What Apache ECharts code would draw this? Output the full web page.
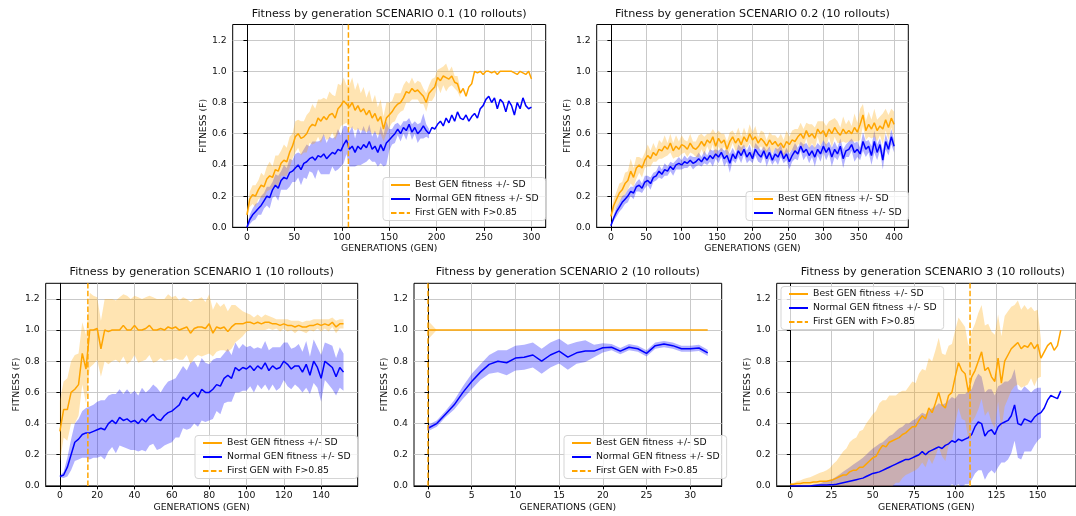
<!DOCTYPE html>
<html>
<head>
<meta charset="utf-8">
<script src="https://cdn.jsdelivr.net/npm/echarts@6/dist/echarts.min.js"></script>
<style>
  html, body { margin: 0; padding: 0; background: #ffffff; }
  #chart { width: 1076px; height: 516px; }
</style>
</head>
<body>
<div id="chart"></div>
<script>
// ---------------- data: mean fitness per generation and its SD ----------------
// Scenario 0.1 (one value every 3 generations)
const GEN_STEP_S01 = 3;
const BEST_S01 = [
  .08,.18,.21,.2,.24,.27,.26,.31,.33,.32,
  .37,.36,.41,.43,.42,.48,.52,.58,.6,.57,
  .58,.6,.64,.66,.65,.7,.68,.71,.69,.72,
  .73,.7,.76,.78,.81,.79,.77,.8,.75,.78,
  .74,.76,.72,.75,.7,.73,.68,.71,.63,.7,
  .72,.74,.77,.79,.8,.83,.87,.86,.89,.87,
  .88,.86,.84,.8,.86,.88,.9,.96,.94,.97,
  .96,.95,.97,.93,.92,.86,.89,.84,.9,.92,
  1.0,.99,1.0,.98,1.0,1.0,.99,1.0,.98,1.0,
  1.0,1.0,1.0,1.0,.99,.98,1.0,.99,.98,1.0,
  .95
];
const BEST_SD_S01 = [
  .03,.05,.06,.07,.06,.08,.07,.08,.09,.07,
  .09,.1,.08,.1,.09,.1,.08,.1,.09,.11,
  .1,.12,.1,.13,.11,.12,.14,.12,.13,.15,
  .12,.14,.16,.13,.15,.12,.14,.16,.13,.15,
  .12,.14,.11,.13,.1,.12,.09,.11,.08,.1,
  .08,.07,.09,.07,.06,.08,.07,.06,.07,.05,
  .06,.07,.05,.06,.05,.07,.06,.05,.08,.06,
  .09,.05,.06,.04,.05,.03
];
const NORMAL_S01 = [
  0,.05,.08,.1,.12,.14,.17,.2,.19,.24,
  .27,.25,.3,.32,.31,.35,.36,.38,.4,.37,
  .41,.42,.44,.45,.43,.46,.45,.47,.44,.46,
  .48,.47,.5,.49,.53,.56,.5,.52,.48,.52,
  .5,.53,.51,.55,.5,.52,.48,.53,.49,.54,
  .56,.58,.6,.63,.6,.64,.62,.66,.61,.64,
  .6,.62,.65,.62,.6,.64,.63,.66,.68,.65,
  .7,.67,.72,.68,.74,.7,.69,.72,.68,.71,
  .73,.7,.76,.78,.82,.84,.8,.83,.76,.82,
  .8,.74,.81,.78,.72,.8,.76,.83,.78,.76,
  .77
];
const NORMAL_SD_S01 = [
  .01,.03,.04,.05,.04,.06,.05,.06,.07,.05,
  .07,.08,.06,.08,.07,.09,.07,.09,.08,.1,
  .09,.11,.08,.1,.12,.09,.11,.13,.1,.12,
  .09,.11,.13,.1,.12,.09,.11,.13,.09,.12,
  .1,.12,.09,.11,.08,.1,.09,.12,.1,.14,
  .07,.05,.06,.04,.05,.04,.06,.04,.05,.04,
  .06,.05,.08,.04,.03
];
const FIRST_GEN_S01 = 107;

// Scenario 0.2 (one value every 4 generations)
const GEN_STEP_S02 = 4;
const BEST_S02 = [
  .07,.14,.18,.22,.24,.28,.3,.36,.32,.38,
  .4,.38,.43,.46,.44,.48,.46,.5,.49,.52,
  .5,.54,.49,.52,.5,.53,.52,.5,.54,.51,
  .5,.52,.55,.52,.56,.54,.58,.52,.57,.54,
  .56,.5,.55,.58,.54,.57,.53,.58,.55,.6,
  .56,.58,.54,.57,.55,.52,.56,.53,.55,.52,
  .54,.51,.55,.53,.56,.55,.58,.6,.57,.62,
  .58,.6,.57,.63,.6,.62,.58,.63,.6,.64,
  .61,.59,.63,.6,.62,.6,.64,.61,.66,.72,
  .62,.66,.63,.67,.62,.65,.63,.69,.64,.7,
  .66
];
const BEST_SD_S02 = [
  .03,.04,.05,.06,.05,.07,.06,.08,.06,.07,
  .05,.06,.05,.07,.05,.06,.04,.06,.05,.07,
  .04,.06,.05,.07,.05,.06,.04,.05,.06,.04,
  .05,.07,.05,.06,.04,.06,.05,.08,.05,.06,
  .04,.05,.06,.04,.05,.07,.05,.06,.04,.06,
  .05,.07,.04,.05,.06,.04,.05,.06,.04,.05,
  .06,.05,.07,.05,.06,.08,.05,.07,.06,.05,
  .08,.06,.07,.05,.08,.06,.07,.05,.09,.06,
  .07,.05,.08,.06,.07,.05,.09,.06,.1,.07,
  .06,.08,.06,.09,.07,.06,.1,.07,.08,.06,
  .08
];
const NORMAL_S02 = [
  .01,.06,.1,.13,.16,.18,.2,.23,.22,.26,
  .27,.25,.29,.3,.28,.32,.33,.36,.34,.37,
  .36,.39,.37,.4,.41,.4,.42,.41,.43,.41,
  .42,.44,.42,.45,.43,.46,.44,.47,.45,.48,
  .44,.46,.41,.47,.44,.49,.46,.5,.45,.48,
  .44,.5,.47,.45,.49,.44,.48,.43,.47,.45,
  .49,.44,.47,.42,.46,.49,.47,.52,.48,.5,
  .46,.49,.45,.5,.47,.52,.48,.51,.45,.5,
  .47,.52,.44,.49,.5,.53,.48,.5,.47,.55,
  .5,.52,.46,.55,.48,.53,.43,.55,.5,.58,
  .52
];
const NORMAL_SD_S02 = [
  .01,.02,.03,.03,.04,.03,.04,.03,.04,.03,
  .04,.03,.04,.03,.04,.03,.03,.04,.03,.04,
  .03,.03,.04,.03,.04,.03,.04,.03,.03,.04,
  .03,.04,.03,.04,.03,.04,.05,.03,.04,.03,
  .05,.04,.06,.04,.03,.04,.05,.03,.04,.05,
  .03,.04,.05,.04,.03,.05,.04,.03,.04,.05,
  .04,.03,.04,.05,.04,.05,.04,.03,.05,.04,
  .05,.04,.06,.04,.05,.04,.05,.04,.06,.05,
  .04,.05,.06,.04,.05,.04,.06,.05,.04,.06,
  .05,.04,.06,.07,.05,.04,.06,.05,.04,.05,
  .04
];
const FIRST_GEN_S02 = null;

// Scenario 1 (one value every 2 generations)
const GEN_STEP_S1 = 2;
const BEST_S1 = [
  .35,.49,.49,.6,.62,.65,.85,.75,1.0,1.0,
  1.01,.88,1.0,.99,1.0,1.0,1.0,1.03,1.0,1.0,
  1.03,1.0,1.0,1.01,1.03,1.0,1.0,1.01,1.0,1.02,
  1.01,1.02,1.0,1.01,1.02,.98,1.01,1.02,1.02,1.01,
  1.04,.98,1.02,1.01,1.02,.99,1.02,1.04,1.04,1.04,
  1.05,1.05,1.04,1.05,1.04,1.05,1.05,1.04,1.04,1.03,
  1.04,1.03,1.03,1.02,1.03,1.02,1.02,1.03,1.03,1.04,
  1.03,1.04,1.03,1.05,1.02,1.04,1.04
];
const BEST_SD_S1 = [
  .2,.18,.2,.2,.22,.2,.2,.22,.24,.22,
  .2,.18,.2,.21,.2,.19,.21,.2,.22,.2,
  .19,.21,.2,.2,.19,.21,.2,.19,.2,.21,
  .2,.2,.19,.2,.18,.2,.19,.18,.19,.17,
  .19,.15,.16,.14,.15,.13,.14,.12,.1,.08,
  .06,.05,.04,.05,.04,.05,.04,.04,.03,.04,
  .03,.04,.03,.04,.03,.03,.04,.03,.04,.03,
  .04,.03,.04,.03,.04,.03,.03
];
const NORMAL_S1 = [
  .06,.07,.12,.2,.28,.3,.33,.34,.34,.35,
  .36,.37,.36,.4,.42,.4,.44,.42,.43,.41,
  .42,.4,.43,.41,.44,.46,.43,.42,.45,.47,
  .48,.5,.52,.57,.55,.58,.6,.57,.62,.6,
  .6,.62,.65,.64,.69,.71,.69,.76,.74,.76,
  .75,.77,.74,.77,.75,.79,.74,.77,.75,.76,
  .8,.78,.75,.77,.77,.73,.78,.71,.8,.76,
  .69,.8,.78,.76,.7,.76,.73
];
const NORMAL_SD_S1 = [
  .005,.02,.06,.1,.12,.13,.15,.16,.17,.17,
  .18,.18,.19,.18,.17,.19,.18,.17,.19,.18,
  .19,.18,.2,.19,.18,.19,.2,.18,.19,.2,
  .2,.19,.21,.2,.19,.21,.2,.19,.2,.19,
  .18,.19,.17,.18,.16,.17,.15,.16,.14,.15,
  .14,.13,.14,.12,.13,.14,.13,.12,.14,.13,
  .12,.14,.13,.12,.14,.13,.15,.12,.14,.13,
  .15,.12,.13,.14,.12,.13,.12
];
const FIRST_GEN_S1 = 15;

// Scenario 2 (every generation)
const GEN_STEP_S2 = 1;
const BEST_S2 = [
  1,1,1,1,1,1,1,1,1,1,
  1,1,1,1,1,1,1,1,1,1,
  1,1,1,1,1,1,1,1,1,1,
  1,1,1
];
const BEST_SD_S2 = [.06, 0];
const NORMAL_S2 = [
  .37,.4,.46,.52,.6,.67,.73,.78,.8,.79,
  .82,.825,.84,.8,.84,.865,.826,.854,.865,.865,
  .886,.89,.865,.89,.88,.85,.9,.91,.9,.88,
  .88,.885,.854
];
const NORMAL_SD_S2 = [
  .02,.02,.02,.03,.04,.05,.05,.06,.07,.08,
  .08,.08,.08,.08,.08,.08,.08,.07,.07,.04,
  .03,.02,.02,.02,.02,.02,.02,.02,.02,.02,
  .02,.02,.02
];
const FIRST_GEN_S2 = 0;

// Scenario 3 (one value every 2 generations)
const GEN_STEP_S3 = 2;
const BEST_S3 = [
  .01,.01,.015,.015,.02,.02,.02,.025,.025,.03,
  .03,.03,.035,.04,.05,.06,.07,.07,.09,.1,
  .1,.12,.12,.14,.16,.18,.19,.23,.26,.25,
  .28,.29,.3,.31,.33,.34,.36,.38,.38,.42,
  .45,.43,.5,.47,.53,.6,.52,.5,.58,.6,
  .7,.79,.74,.72,.6,.7,.74,.8,.86,.74,
  .76,.7,.67,.82,.66,.8,.84,.88,.9,.92,
  .88,.9,.89,.92,.88,.91,.82,.86,.9,.92,
  .87,.9,1.0
];
const BEST_SD_S3 = [
  .005,.01,.015,.02,.025,.03,.035,.04,.05,.055,
  .06,.07,.08,.1,.11,.13,.15,.17,.19,.2,
  .21,.23,.24,.26,.27,.28,.29,.3,.29,.3,
  .3,.29,.28,.29,.28,.27,.28,.29,.28,.3,
  .3,.31,.32,.33,.34,.35,.33,.34,.32,.31,
  .3,.29,.31,.3,.3,.29,.3,.31,.3,.29,
  .28,.29,.3,.28,.3,.29,.28,.27,.26,.27,
  .25,.26,.24,.23,.24,.22,.12
];
const NORMAL_S3 = [
  0,0,0,0,0,0,0,.002,.004,.005,
  .005,.006,.007,.008,.01,.015,.02,.025,.03,.035,
  .04,.045,.05,.06,.07,.08,.085,.09,.1,.11,
  .12,.13,.14,.15,.16,.17,.17,.18,.19,.2,
  .22,.2,.22,.23,.24,.25,.24,.26,.27,.29,
  .28,.3,.29,.3,.31,.33,.38,.41,.4,.32,
  .35,.36,.33,.38,.4,.41,.42,.45,.52,.4,
  .39,.43,.42,.41,.44,.46,.47,.5,.55,.58,
  .57,.56,.61
];
const NORMAL_SD_S3 = [
  0,0,0,0,0,0,.002,.004,.006,.01,
  .02,.025,.03,.04,.05,.06,.07,.08,.09,.1,
  .11,.12,.13,.14,.15,.16,.17,.18,.18,.19,
  .2,.2,.21,.22,.22,.23,.23,.24,.24,.25,
  .25,.26,.26,.27,.27,.28,.28,.27,.28,.28,
  .28,.29,.3,.29,.3,.29,.3,.31,.3,.28,
  .27,.26,.25,.26,.25,.26,.25,.24,.23,.22,
  .22,.21,.2,.19,.18,.17,.16
];
const FIRST_GEN_S3 = 109;

// ---------------- tick labels and text ----------------
const X_TICKS_S01 = [0, 50, 100, 150, 200, 250, 300];
const X_TICKS_S02 = [0, 50, 100, 150, 200, 250, 300, 350, 400];
const X_TICKS_S1 = [0, 20, 40, 60, 80, 100, 120, 140];
const X_TICKS_S2 = [0, 5, 10, 15, 20, 25, 30];
const X_TICKS_S3 = [0, 25, 50, 75, 100, 125, 150];
const Y_TICKS = [0, 0.2, 0.4, 0.6, 0.8, 1.0, 1.2];

const TITLES = [
  'Fitness by generation SCENARIO 0.1 (10 rollouts)',
  'Fitness by generation SCENARIO 0.2 (10 rollouts)',
  'Fitness by generation SCENARIO 1 (10 rollouts)',
  'Fitness by generation SCENARIO 2 (10 rollouts)',
  'Fitness by generation SCENARIO 3 (10 rollouts)'
];
const NAME_BEST = 'Best GEN fitness +/- SD';
const NAME_NORMAL = 'Normal GEN fitness +/- SD';
const NAME_FIRST = 'First GEN with F>0.85';
const X_NAME = 'GENERATIONS (GEN)';
const Y_NAME = 'FITNESS (F)';

// ---------------- panel layout (pixels) ----------------
const PANELS = [
  { step: GEN_STEP_S01, best: BEST_S01, bestSd: BEST_SD_S01, normal: NORMAL_S01, normalSd: NORMAL_SD_S01, first: FIRST_GEN_S01, xTicks: X_TICKS_S01,
    grid: { left: 232.7, top: 24.5, width: 313, height: 202.8 }, xMin: -15, xMax: 315, legend: { left: 383, top: 177.5 }, titleX: 389.2, titleY: 8.5 },
  { step: GEN_STEP_S02, best: BEST_S02, bestSd: BEST_SD_S02, normal: NORMAL_S02, normalSd: NORMAL_SD_S02, first: FIRST_GEN_S02, xTicks: X_TICKS_S02,
    grid: { left: 596.7, top: 24.5, width: 311.6, height: 202.8 }, xMin: -20, xMax: 420, legend: { left: 746, top: 191.5 }, titleX: 752.5, titleY: 8.5 },
  { step: GEN_STEP_S1, best: BEST_S1, bestSd: BEST_SD_S1, normal: NORMAL_S1, normalSd: NORMAL_SD_S1, first: FIRST_GEN_S1, xTicks: X_TICKS_S1,
    grid: { left: 45.7, top: 283.3, width: 312, height: 202.6 }, xMin: -7.6, xMax: 159.6, legend: { left: 195, top: 435.5 }, titleX: 201.7, titleY: 267 },
  { step: GEN_STEP_S2, best: BEST_S2, bestSd: BEST_SD_S2, normal: NORMAL_S2, normalSd: NORMAL_SD_S2, first: FIRST_GEN_S2, xTicks: X_TICKS_S2,
    grid: { left: 414, top: 283.3, width: 307.7, height: 202.6 }, xMin: -1.6, xMax: 33.6, legend: { left: 564, top: 435.5 }, titleX: 567.9, titleY: 267 },
  { step: GEN_STEP_S3, best: BEST_S3, bestSd: BEST_SD_S3, normal: NORMAL_S3, normalSd: NORMAL_SD_S3, first: FIRST_GEN_S3, xTicks: X_TICKS_S3,
    grid: { left: 776.7, top: 283.3, width: 312.2, height: 202.6 }, xMin: -8.25, xMax: 173.25, legend: { left: 781, top: 286.5 }, titleX: 932.8, titleY: 267 }
];

const FONT = 'DejaVu Sans';
const TEXT = '#111111';
const ORANGE = '#ffa500';
const BLUE = '#0000ff';
const ORANGE_FILL = 'rgba(255,165,0,0.3)';
const BLUE_FILL = 'rgba(0,0,255,0.3)';
const Y_MIN = 0, Y_MAX = 1.3;

function gensOf(values, step) {
  return values.map((_, k) => k * step);
}

// mean +/- SD drawn as one filled polygon
function bandSeries(idx, gens, mean, sd, fill, z) {
  const n = Math.min(mean.length, sd.length);
  const rows = [];
  for (let k = 0; k < n; k++) rows.push([gens[k], mean[k] - sd[k], mean[k] + sd[k]]);
  return {
    type: 'custom', xAxisIndex: idx, yAxisIndex: idx, silent: true, clip: true, z: z,
    animation: false,
    data: rows,
    encode: { x: 0, y: [1, 2] },
    renderItem(params, api) {
      if (params.dataIndex !== 0) return null;
      const upper = rows.map(r => api.coord([r[0], r[2]]));
      const lower = rows.map(r => api.coord([r[0], r[1]])).reverse();
      return { type: 'polygon', shape: { points: upper.concat(lower) }, style: { fill: fill } };
    }
  };
}

function lineSeries(idx, name, gens, values, color, z) {
  return {
    type: 'line', name: name, xAxisIndex: idx, yAxisIndex: idx, z: z,
    data: values.map((v, k) => [gens[k], v]),
    symbol: 'none', showSymbol: false, animation: false, silent: true,
    lineStyle: { color: color, width: 1.5 },
    itemStyle: { color: color }
  };
}

const textStyle = (size) => ({ fontFamily: FONT, fontSize: size, color: TEXT, fontWeight: 'normal' });

const grids = [], xAxes = [], yAxes = [], series = [], titles = [], legends = [];

PANELS.forEach((p, i) => {
  grids.push(Object.assign({ show: true, borderColor: '#000', borderWidth: 1, backgroundColor: 'transparent', containLabel: false }, p.grid));

  xAxes.push({
    type: 'value', gridIndex: i, min: p.xMin, max: p.xMax,
    name: X_NAME, nameLocation: 'middle', nameGap: 17, nameTextStyle: textStyle(9.3),
    axisLine: { show: true, onZero: false, lineStyle: { color: '#000', width: 1 } },
    axisTick: { show: true, length: 3.5, customValues: p.xTicks, lineStyle: { color: '#000', width: 1 } },
    axisLabel: Object.assign({ customValues: p.xTicks, margin: 5.5 }, textStyle(9.3)),
    splitLine: { show: true, lineStyle: { color: '#c9c9c9', width: 1 } }
  });

  yAxes.push({
    type: 'value', gridIndex: i, min: Y_MIN, max: Y_MAX,
    name: Y_NAME, nameLocation: 'middle', nameRotate: 90, nameGap: 25, nameTextStyle: textStyle(9.3),
    axisLine: { show: true, lineStyle: { color: '#000', width: 1 } },
    axisTick: { show: true, length: 3.5, customValues: Y_TICKS, lineStyle: { color: '#000', width: 1 } },
    axisLabel: Object.assign({ customValues: Y_TICKS, margin: 6, formatter: v => v.toFixed(1) }, textStyle(9.3)),
    splitLine: { show: true, lineStyle: { color: '#c9c9c9', width: 1 } }
  });

  const gb = gensOf(p.best, p.step);
  const gn = gensOf(p.normal, p.step);
  series.push(bandSeries(i, gn, p.normal, p.normalSd, BLUE_FILL, 1));
  series.push(bandSeries(i, gb, p.best, p.bestSd, ORANGE_FILL, 2));
  series.push(lineSeries(i, NAME_BEST, gb, p.best, ORANGE, 3));
  series.push(lineSeries(i, NAME_NORMAL, gn, p.normal, BLUE, 4));

  const names = [NAME_BEST, NAME_NORMAL];
  if (p.first !== null) {
    names.push(NAME_FIRST);
    series.push({
      type: 'line', name: NAME_FIRST, xAxisIndex: i, yAxisIndex: i, z: 5,
      data: [[p.first, Y_MIN], [p.first, Y_MAX]],
      symbol: 'none', showSymbol: false, animation: false, silent: true,
      lineStyle: { color: ORANGE, width: 1.5, type: [5.5, 2.4] },
      itemStyle: { color: ORANGE }
    });
  }

  titles.push({
    text: TITLES[i], left: p.titleX, top: p.titleY, textAlign: 'center', padding: 0,
    textStyle: textStyle(11.2)
  });

  // legend keys are plain line samples (the point marker is hidden)
  legends.push({
    data: names, left: p.legend.left, top: p.legend.top, orient: 'vertical',
    selectedMode: false, itemWidth: 19, itemHeight: 10, itemGap: 5,
    padding: [3, 7, 3, 7],
    borderColor: '#d5d5d5', borderWidth: 1, borderRadius: 3,
    backgroundColor: 'rgba(255,255,255,0.8)',
    itemStyle: { opacity: 0 },
    textStyle: textStyle(9.3),
    z: 10
  });
});

const chart = echarts.init(document.getElementById('chart'), null, { renderer: 'canvas' });
chart.setOption({
  backgroundColor: '#ffffff',
  animation: false,
  title: titles,
  legend: legends,
  grid: grids,
  xAxis: xAxes,
  yAxis: yAxes,
  series: series
});
</script>
</body>
</html>
